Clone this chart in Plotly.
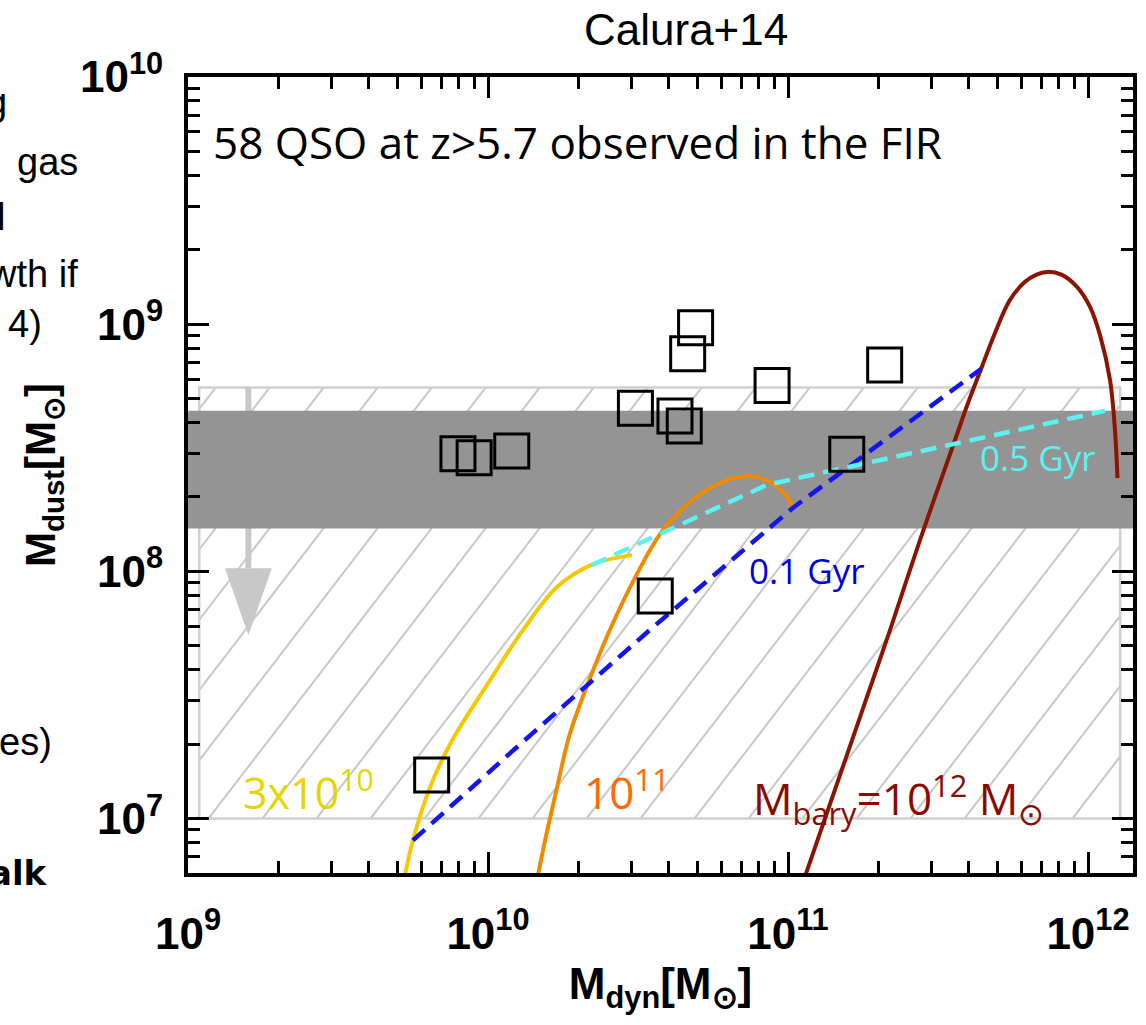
import numpy as np
import plotly.graph_objects as go

# ---- QSO sample (z > 5.7, FIR detected): dynamical vs dust mass [Msun]
qso_mdyn = [7.94e9, 8.99e9, 1.20e10, 3.10e10, 4.20e10, 4.51e10, 4.63e10,
            4.92e10, 8.85e10, 2.10e11, 1.57e11, 3.61e10, 6.49e9]
qso_mdust = [2.99e8, 2.88e8, 3.07e8, 4.57e8, 4.25e8, 3.87e8, 7.59e8,
             9.68e8, 5.65e8, 6.84e8, 2.98e8, 7.95e7, 1.50e7]

# ---- chemical-evolution tracks for three baryonic masses
track_3e10_mdyn = [5.21e9, 5.62e9, 6.41e9, 7.59e9, 9.92e9, 1.308e10,
                   1.698e10, 2.239e10, 3.02e10]
track_3e10_mdust = [5.40e6, 8.17e6, 1.34e7, 2.07e7, 3.47e7, 5.785e7,
                    8.64e7, 1.07e8, 1.164e8]

track_1e11_mdyn = [1.445e10, 1.55e10, 1.69e10, 1.87e10, 2.19e10, 2.55e10,
                   3.09e10, 3.83e10, 4.82e10, 5.93e10, 7.36e10, 8.71e10,
                   9.93e10, 1.04e11]
track_1e11_mdust = [5.37e6, 8.17e6, 1.30e7, 2.18e7, 3.71e7, 5.81e7, 9.42e7,
                    1.47e8, 1.95e8, 2.28e8, 2.43e8, 2.30e8, 2.00e8, 1.80e8]

track_1e12_mdyn = [1.113e11, 2.188e11, 2.754e11, 3.603e11, 3.981e11, 4.40e11,
                   4.898e11, 5.495e11, 6.166e11, 6.71e11, 7.30e11, 8.19e11,
                   9.19e11, 1.0155e12, 1.096e12, 1.184e12, 1.23e12, 1.254e12]
track_1e12_mdust = [5.37e6, 5.785e7, 1.339e8, 3.401e8, 4.80e8, 6.59e8,
                    9.22e8, 1.254e9, 1.484e9, 1.584e9, 1.628e9, 1.584e9,
                    1.416e9, 1.175e9, 9.05e8, 5.95e8, 3.73e8, 2.386e8]

# ---- iso-age loci
age_01_mdyn = [5.62e9, 1.28e10, 3.47e10, 1.04e11, 4.40e11]
age_01_mdust = [8.17e6, 2.00e7, 5.81e7, 1.81e8, 6.59e8]
age_05_mdyn = [2.22e10, 8.51e10, 1.14e12]
age_05_mdust = [1.06e8, 2.24e8, 4.46e8]

# ---- observed ranges
hatch_mdyn = [1.09e9, 1.28e12]      # hatched region, x extent
hatch_mdust = [1.0e7, 5.55e8]       # hatched region, y extent
band_mdust = [1.49e8, 4.47e8]       # shaded band
limit_mdyn = 1.59e9                 # upper-limit arrow position
limit_mdust = [5.55e8, 1.03e8, 5.52e7]  # arrow top, head base, tip

# ---- axes
x_range_log = [9.0, 12.15]
y_range_log = [6.78, 10.0]
x_tickvals = [1e9, 1e10, 1e11, 1e12]
x_ticktext = ["10<sup>9</sup>", "10<sup>10</sup>", "10<sup>11</sup>", "10<sup>12</sup>"]
y_tickvals = [1e7, 1e8, 1e9, 1e10]
y_ticktext = ["10<sup>7</sup>", "10<sup>8</sup>", "10<sup>9</sup>", "10<sup>10</sup>"]

AX_FONT = "Liberation Sans Narrow, Liberation Sans, Arial, sans-serif"
LBL_FONT = "Open Sans, Lato, sans-serif"

YELLOW, ORANGE, DARKRED = "#F7C800", "#F08A00", "#8B1500"
BLUE, CYAN = "#1414F0", "#5CF2F2"

fig = go.Figure()

# hatched region: outline plus diagonal hatching computed in log space
lx0, lx1 = np.log10(hatch_mdyn)
ly0, ly1 = np.log10(hatch_mdust)
slope, step, c_ref = 1.579, 0.18, 3.7348
hx, hy = [], []
k_lo = int(np.floor((lx0 - ly1 / slope - c_ref) / step)) - 1
k_hi = int(np.ceil((lx1 - ly0 / slope - c_ref) / step)) + 1
for k in range(k_lo, k_hi + 1):
    c = c_ref + k * step
    xa, ya = c + ly0 / slope, ly0
    xb, yb = c + ly1 / slope, ly1
    if xa < lx0:
        xa, ya = lx0, slope * (lx0 - c)
    if xb > lx1:
        xb, yb = lx1, slope * (lx1 - c)
    if xb <= xa or ya >= ly1 or yb <= ly0:
        continue
    hx += [10 ** xa, 10 ** xb, None]
    hy += [10 ** ya, 10 ** yb, None]
fig.add_trace(go.Scatter(x=hx, y=hy, mode="lines",
                         line=dict(color="#C8C8C8", width=2), hoverinfo="skip"))
fig.add_trace(go.Scatter(
    x=[hatch_mdyn[0], hatch_mdyn[1], hatch_mdyn[1], hatch_mdyn[0], hatch_mdyn[0]],
    y=[hatch_mdust[0], hatch_mdust[0], hatch_mdust[1], hatch_mdust[1], hatch_mdust[0]],
    mode="lines", line=dict(color="#D0D0D0", width=2.5), hoverinfo="skip"))

# upper-limit arrow
fig.add_trace(go.Scatter(x=[limit_mdyn, limit_mdyn], y=limit_mdust[:2], mode="lines",
                         line=dict(color="#C8C8C8", width=6), hoverinfo="skip"))
head_half = 10 ** 0.078
fig.add_trace(go.Scatter(
    x=[limit_mdyn / head_half, limit_mdyn * head_half, limit_mdyn, limit_mdyn / head_half],
    y=[limit_mdust[1], limit_mdust[1], limit_mdust[2], limit_mdust[1]],
    mode="lines", fill="toself", fillcolor="#C8C8C8", line=dict(width=0),
    hoverinfo="skip"))

# shaded band across the full axis width
xb0, xb1 = 10 ** x_range_log[0], 10 ** x_range_log[1]
fig.add_trace(go.Scatter(
    x=[xb0, xb1, xb1, xb0, xb0],
    y=[band_mdust[0], band_mdust[0], band_mdust[1], band_mdust[1], band_mdust[0]],
    mode="lines", fill="toself", fillcolor="#949494", line=dict(width=0),
    hoverinfo="skip"))

# model tracks
for xs, ys, col in [(track_3e10_mdyn, track_3e10_mdust, YELLOW),
                    (track_1e11_mdyn, track_1e11_mdust, ORANGE),
                    (track_1e12_mdyn, track_1e12_mdust, DARKRED)]:
    fig.add_trace(go.Scatter(x=xs, y=ys, mode="lines",
                             line=dict(color=col, width=4, shape="spline", smoothing=1.0)))

fig.add_trace(go.Scatter(x=age_01_mdyn, y=age_01_mdust, mode="lines",
                         line=dict(color=BLUE, width=4.5, dash="16px,9px")))
fig.add_trace(go.Scatter(x=age_05_mdyn, y=age_05_mdust, mode="lines",
                         line=dict(color=CYAN, width=4.5, dash="16px,9px")))

# QSO data
fig.add_trace(go.Scatter(x=qso_mdyn, y=qso_mdust, mode="markers",
                         marker=dict(symbol="square-open", size=34, color="black",
                                     line=dict(width=3, color="black"))))

minor_vals = lambda lo, hi: [m * 10.0 ** d for d in range(lo, hi) for m in range(2, 10)]

axis_common = dict(
    type="log", showgrid=False, zeroline=False, showline=True, linewidth=4,
    linecolor="black", mirror="ticks", ticks="inside", ticklen=21, tickwidth=3,
    tickcolor="black", tickmode="array",
    tickfont=dict(family=AX_FONT, size=44, color="black", weight="bold"),
)

fig.update_xaxes(range=x_range_log, tickvals=x_tickvals, ticktext=x_ticktext,
                 minor=dict(ticks="inside", ticklen=12, tickwidth=3, tickcolor="black",
                            tickmode="array", tickvals=minor_vals(9, 13)),
                 ticklabelstandoff=19,
                 title=dict(text="M<sub>dyn</sub>[M<sub>⊙</sub>]", standoff=12,
                            font=dict(family=AX_FONT, size=44, color="black", weight="bold")),
                 **axis_common)
fig.update_yaxes(range=y_range_log, tickvals=y_tickvals, ticktext=y_ticktext,
                 minor=dict(ticks="inside", ticklen=12, tickwidth=3, tickcolor="black",
                            tickmode="array", tickvals=minor_vals(6, 10)),
                 ticklabelstandoff=12,
                 title=dict(text="M<sub>dust</sub>[M<sub>⊙</sub>]", standoff=12,
                            font=dict(family=AX_FONT, size=42, color="black", weight="bold")),
                 **axis_common)

L = np.log10
annotations = [
    dict(x=L(1.19e9), y=L(5.47e9), text="58 QSO at z>5.7 observed in the FIR",
         xanchor="left", yanchor="middle",
         font=dict(family=LBL_FONT, size=44, color="black")),
    dict(x=L(7.3e10), y=L(1.01e8), text="0.1 Gyr", xanchor="left", yanchor="middle",
         font=dict(family=LBL_FONT, size=35, color="#0000E0")),
    dict(x=L(4.3e11), y=L(2.9e8), text="0.5 Gyr", xanchor="left", yanchor="middle",
         font=dict(family=LBL_FONT, size=35, color=CYAN)),
    dict(x=L(1.5e9), y=L(1.3e7), text="3x10<sup>10</sup>", xanchor="left", yanchor="middle",
         font=dict(family=LBL_FONT, size=43, color="#E8D400")),
    dict(x=L(2.05e10), y=L(1.3e7), text="10<sup>11</sup>", xanchor="left", yanchor="middle",
         font=dict(family=LBL_FONT, size=44, color="#FF6A00")),
    dict(x=L(7.5e10), y=L(1.2e7), text="M<sub>bary</sub>=10<sup>12</sup> M<sub>⊙</sub>",
         xanchor="left", yanchor="middle",
         font=dict(family=LBL_FONT, size=44, color="#8B0A00")),
]
for a in annotations:
    a.update(xref="x", yref="y", showarrow=False)

# title
W, H = 1146, 1025
ML, MR, MT, MB = 188, 13, 77, 152
pw, ph = W - ML - MR, H - MT - MB
px = lambda v: (v - ML) / pw
py = lambda v: (H - MB - v) / ph
annotations.append(dict(xref="paper", yref="paper", x=px(686), y=py(30), text="Calura+14",
                        showarrow=False, xanchor="center", yanchor="middle",
                        font=dict(family="Liberation Sans, Arial, sans-serif", size=44,
                                  color="black")))

# text continuing in from the left neighbour
side_font = dict(family="Liberation Sans, Arial, sans-serif", size=38, color="black")
for txt, xr, yc in [("g", 9, 102), ("gas", 80, 162), ("l", 7, 217), ("wth if", 80, 274),
                    ("4)", 44, 324), ("es)", 54, 742)]:
    annotations.append(dict(xref="paper", yref="paper", x=px(xr), y=py(yc), text=txt,
                            showarrow=False, xanchor="right", yanchor="middle",
                            font=side_font))
annotations.append(dict(xref="paper", yref="paper", x=px(50), y=py(873), text="alk",
                        showarrow=False, xanchor="right", yanchor="middle",
                        font=dict(family="DejaVu Sans, sans-serif", size=34, color="black",
                                  weight="bold")))

fig.update_layout(
    width=W, height=H, margin=dict(l=ML, r=MR, t=MT, b=MB, autoexpand=False),
    paper_bgcolor="white", plot_bgcolor="white", showlegend=False,
    annotations=annotations,
)

fig.write_html("out.html")
